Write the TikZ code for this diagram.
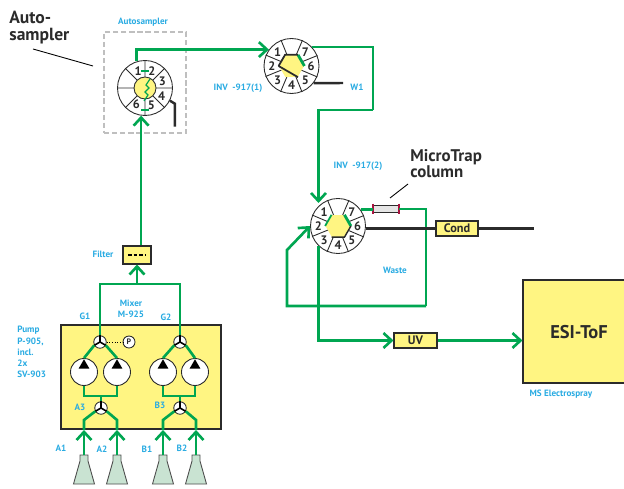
\documentclass[tikz,border=0pt]{standalone}
\usepackage{fontspec}
\setmainfont{PT Sans}
\usetikzlibrary{calc,arrows.meta,shapes.geometric}
\definecolor{flowgreen}{HTML}{00A651}
\definecolor{labelblue}{HTML}{29ABE2}
\definecolor{boxyellow}{HTML}{FFF582}
\definecolor{flaskgreen}{HTML}{C9E3D2}
\definecolor{darktext}{HTML}{2B2B2B}
\definecolor{crimp}{HTML}{A8123E}

\begin{document}
\begin{tikzpicture}[x=0.02cm, y=-0.02cm,
    flow/.style={draw=flowgreen, line width=1.5pt},
    flowin/.style={flow, -{Straight Barb[length=4.6pt, width=8.5pt, line width=1.5pt]}},
    blackline/.style={draw=darktext, line width=1.4pt},
    valve/.style={circle, draw=darktext, fill=white, line width=0.5pt,
                  minimum size=1.1cm, inner sep=0pt},
    spoke/.style={draw=darktext, line width=0.5pt},
    hexrotor/.style={regular polygon, regular polygon sides=6, fill=boxyellow,
                     minimum size=0.5cm, inner sep=0pt},
    portnum/.style={font=\fontsize{7}{8}\selectfont\bfseries, text=darktext, inner sep=0pt},
    lbl/.style={font=\fontsize{5.2}{6.4}\selectfont\bfseries, text=labelblue, inner sep=0pt},
    biglbl/.style={font=\fontsize{10}{9.6}\selectfont\bfseries, text=darktext, inner sep=0pt,
                   align=left, anchor=north west},
    yellowbox/.style={draw=darktext, fill=boxyellow, line width=0.6pt, inner sep=0pt,
                      font=\fontsize{7}{8}\selectfont\bfseries, text=darktext},
    threeway/.style={circle, draw=darktext, fill=white, line width=0.5pt,
                     minimum size=0.25cm, inner sep=0pt},
    pumphead/.style={circle, draw=darktext, fill=white, line width=0.5pt,
                     minimum size=0.54cm, inner sep=0pt},
    pumptip/.style={regular polygon, regular polygon sides=3, fill=black,
                    minimum size=0.25cm, inner sep=0pt}]
  \clip (0,0) rectangle (624,489);
  % boxes behind everything
  \node[draw=black!25, dash pattern=on 3pt off 1.6pt, line width=1.2pt, minimum width=1.64cm,
        minimum height=2.02cm, inner sep=0pt] (autobox) at (145,82.5) {};
  \node[yellowbox, minimum width=3.2cm, minimum height=2.08cm] (pumpbox) at (141,377) {};
  \node[yellowbox, minimum width=2.4cm, minimum height=2.06cm] (esi) at (583,331.5) {};
  \node[font=\fontsize{10.5}{12}\selectfont\bfseries, text=darktext, inner sep=0pt] (esilbl) at (579,332) {ESI-ToF};
  % autosampler valve
  \node[valve] (auto) at (145,88) {};
  \foreach \a in {0,45,...,315}
    \draw[spoke] ($(auto)!0.38!(auto.\a)$) -- (auto.\a);
  \node[circle, draw=darktext, fill=boxyellow, line width=0.5pt, minimum size=0.44cm,
        inner sep=0pt] (autorotor) at (auto) {};
  \foreach \a/\n in {112/1, 68/2, 20/3, -25/4, -70/5, -118/6}
    \node[portnum] (auto-\n) at ($(auto)!0.66!(auto.\a)$) {\n};
  % the two switching valves
  \foreach \vlv/\x/\y in {inv1/291.5/66, inv2/338/226} {
    \node[valve] (\vlv) at (\x,\y) {};
    \foreach \a in {22.5,67.5,...,337.5}
      \draw[spoke] ($(\vlv)!0.36!(\vlv.\a)$) -- (\vlv.\a);
    \node[hexrotor] (\vlv-rotor) at (\vlv) {};
    \foreach \a/\n in {135/1, 180/2, -135/3, -90/4, -45/5, 0/6, 45/7}
      \node[portnum] (\vlv-\n) at ($(\vlv)!0.7!(\vlv.\a)$) {\n};
  }
  % inside the rotors
  \draw[flowgreen, line width=0.7pt] ($(autorotor)+(5,-9)$) -- ++(-4,6) -- ++(3,3) -- ++(-4,4)
      -- ++(3,3) -- ++(-4,6);
  \draw[flowgreen, line width=1.3pt] ($(auto)+(-4,-17)$) -- ++(8,0);
  \draw[flowgreen, line width=1.3pt] ($(auto)+(-4,22)$) -- ++(8,0);
  \draw[flowgreen, line width=1.6pt] (inv1-rotor.corner 1) -- (inv1-rotor.corner 6);
  \draw[blackline, line width=1pt] (inv1-rotor.corner 1) -- (inv1-rotor.corner 2) -- (inv1-rotor.corner 3);
  \draw[blackline, line width=1pt] (inv1-rotor.corner 3) -- (inv1-rotor.corner 5);
  \draw[flowgreen, line width=1.6pt] (inv2-rotor.corner 1) -- (inv2-rotor.corner 6);
  \draw[flowgreen, line width=1pt] (inv2-rotor.corner 2) -- (inv2-rotor.corner 3);
  \draw[blackline, line width=0.8pt] (inv2-rotor.corner 6) -- (inv2-rotor.corner 5) -- (inv2-rotor.corner 4);
  % inline parts
  \node[yellowbox, minimum width=0.56cm, minimum height=0.36cm] (filter) at (137,255) {};
  \draw[black, line width=1.1pt, dash pattern=on 2pt off 1.2pt] ($(filter)+(-9,0)$) -- ($(filter)+(9,0)$);
  \node[draw=darktext, fill=black!10, line width=0.4pt, minimum width=0.5cm, minimum height=0.14cm,
        inner sep=0pt] (column) at (386,209) {};
  \draw[crimp, line width=0.9pt] ($(column.north west)+(0,-1.5)$) -- ($(column.south west)+(0,1.5)$);
  \draw[crimp, line width=0.9pt] ($(column.north east)+(0,-1.5)$) -- ($(column.south east)+(0,1.5)$);
  \node[yellowbox, minimum width=0.84cm, minimum height=0.3cm] (cond) at (457,228.5) {Cond};
  \node[yellowbox, minimum width=0.86cm, minimum height=0.3cm] (uv) at (415.5,340.5) {UV};
  % free ends and bends
  \coordinate (bendA) at (373,110);
  \coordinate (inv2in) at (318.5,203);
  \coordinate (bendB) at (426,306);
  \coordinate (bendC) at (287,250);
  \coordinate (w1end) at (343,83);
  \coordinate (condend) at (534,228.5);
  % flow path through the valves
  \draw[flowin] (filter.north -| auto.-98) -- (auto.-98);
  \draw[flowin] (auto.108) |- (inv1.144);
  \draw[flow] (inv1.43) -| (bendA);
  \draw[flowin] (bendA) -| (inv2in);
  \draw[flow] (inv2.36) -- (column.west |- inv2.36);
  \draw[flow] (column.east) -| (bendB);
  \draw[flowin] (bendB) -| (bendC) -- (inv2.west);
  \draw[flowin] (inv2.-135) |- (uv.west);
  \draw[flowin] (uv.east) -- (esi.west |- uv.east);
  \draw[blackline] (inv1.-38) -- (w1end);
  \draw[blackline] (inv2.east |- cond.west) -- (cond.west);
  \draw[blackline] (cond.east) -- (condend);
  \draw[blackline] (auto.-27) -- ++(5,3) -- ++(0,23);
  % pump part
  \foreach \tw/\x/\y in {g1/100/342, g2/180/342, a3/101/408, b3/180/408} {
    \node[threeway] (\tw) at (\x,\y) {};
    \foreach \a in {90,-30,-150}
      \draw[black, line width=0.9pt] (\tw.center) -- (\tw.\a);
  }
  \foreach \pmp/\x in {pa1/84, pa2/117, pb1/163, pb2/195} {
    \node[pumphead] (\pmp) at (\x,372) {};
    \node[pumptip] (\pmp-tip) at (\x,365.5) {};
  }
  \node[circle, draw=darktext, fill=white, line width=0.5pt, minimum size=0.24cm, inner sep=0pt,
        font=\fontsize{4.5}{5}\selectfont\bfseries, text=darktext] (ptrans) at (129,342) {P};
  \draw[black, line width=0.5pt, densely dotted] (g1.east) -- (ptrans.west);
  \coordinate (mixer) at (137,284);
  \coordinate (joinA) at (101,396);
  \coordinate (joinB) at (180,396);
  \draw[flow] (g1.north) |- (mixer) -| (g2.north);
  \draw[flowin] (mixer) -- (filter.south);
  \draw[flow] (g1.-150) -- (pa1.north);
  \draw[flow] (g1.-30) -- (pa2.north);
  \draw[flow] (g2.-150) -- (pb1.north);
  \draw[flow] (g2.-30) -- (pb2.north);
  \draw[flow] (pa1.south) |- (joinA) -| (pa2.south);
  \draw[flow] (pb1.south) |- (joinB) -| (pb2.south);
  \draw[flow] (joinA) -- (a3.north);
  \draw[flow] (joinB) -- (b3.north);
  % flasks with their feed lines
  \foreach \f/\x/\tw/\a in {A1/84/a3/-150, A2/117/a3/-30, B1/163/b3/-150, B2/196/b3/-30} {
    \coordinate (knee\f) at (\x,420);
    \coordinate (tip\f) at (\x,430);
    \coordinate (flask\f) at (\x,455);
    \draw[draw=black!70, fill=flaskgreen, line width=0.5pt] ($(flask\f)+(-4,0)$) -- ++(0,6) -- ++(-6.5,23)
        -- ++(21,0) -- ++(-6.5,-23) -- ++(0,-6) -- cycle;
    \draw[flowin] (flask\f) -- (tip\f);
    \draw[flow] (tip\f) -- (knee\f) -- (\tw.\a);
  }
  % labels
  \node[biglbl] (autolbl) at (9,11) {Auto-\\sampler};
  \node[biglbl, font=\fontsize{9.6}{9.2}\selectfont\bfseries] (traplbl) at (410,149) {MicroTrap\\column};
  \coordinate (autolbl-end) at (33,49);
  \coordinate (autobox-end) at (93,66);
  \coordinate (traplbl-end) at (408,184);
  \coordinate (column-end) at (390,198);
  \draw[black, line width=0.5pt] (autolbl-end) -- (autobox-end);
  \draw[black, line width=0.5pt] (traplbl-end) -- (column-end);
  \node[lbl] (l-auto) at (143,22) {Autosampler};
  \node[lbl] (l-inv1) at (238,88) {INV\ \ -917(1)};
  \node[lbl] (l-w1) at (357,87) {W1};
  \node[lbl] (l-inv2) at (358,166) {INV\ \ -917(2)};
  \node[lbl] (l-waste) at (395,270) {Waste};
  \node[lbl] (l-ms) at (561,394) {MS Electrospray};
  \node[lbl] (l-filter) at (103,254) {Filter};
  \node[lbl, align=center] (l-mixer) at (131,309) {Mixer\\M-925};
  \node[lbl] (l-g1) at (85,316) {G1};
  \node[lbl] (l-g2) at (166,317) {G2};
  \node[lbl, align=left, anchor=north west, font=\fontsize{5.2}{6.4}\selectfont\bfseries] (l-pump) at (17,326) {Pump\\P-905,\\incl.\\2x\\SV-903};
  \node[lbl] (l-a3) at (80,407) {A3};
  \node[lbl] (l-b3) at (160,405) {B3};
  \node[lbl] (l-a1) at (61,448) {A1};
  \node[lbl] (l-a2) at (102,449) {A2};
  \node[lbl] (l-b1) at (147,449) {B1};
  \node[lbl] (l-b2) at (182,448) {B2};
\end{tikzpicture}
\end{document}
